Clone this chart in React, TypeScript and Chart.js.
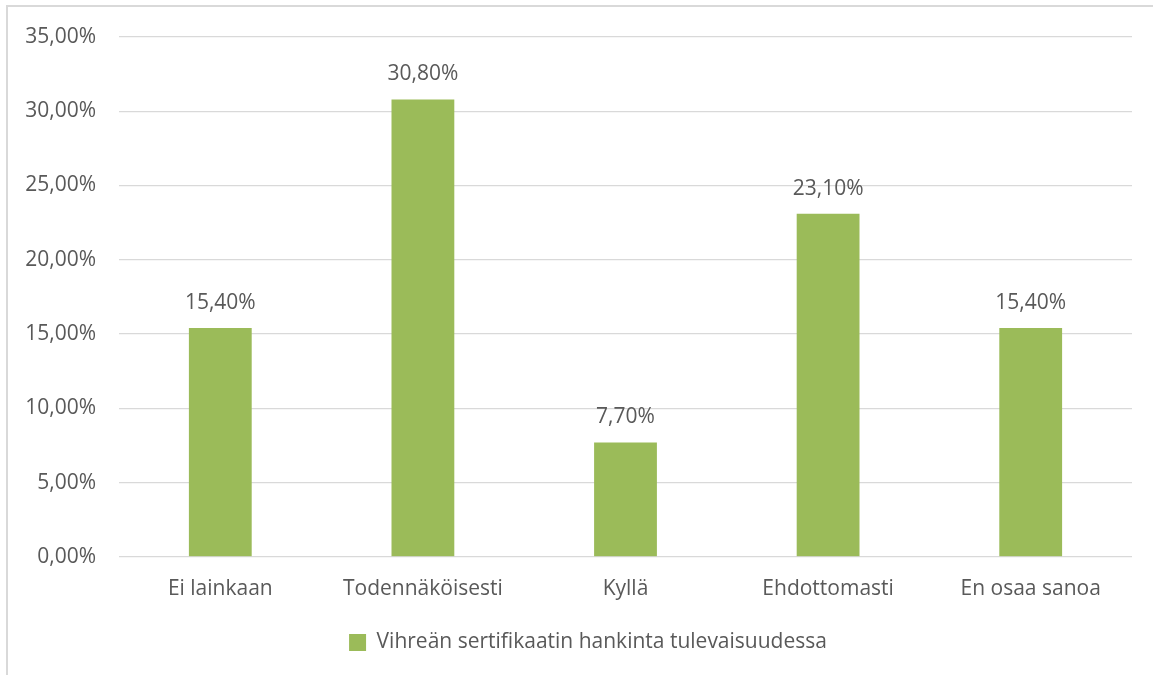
import React, { useEffect, useRef } from "react";
import { Chart, registerables } from "chart.js";

Chart.register(...registerables);

const categories = ["Ei lainkaan", "Todennäköisesti", "Kyllä", "Ehdottomasti", "En osaa sanoa"];
const values = [15.4, 30.8, 7.7, 23.1, 15.4];
const seriesName = "Vihreän sertifikaatin hankinta tulevaisuudessa";
const yMin = 0;
const yMax = 35;
const yStep = 5;

const BAR = "#9BBB59";
const TEXT = "#595959";
const GRID = "#D9D9D9";
const FONT = '"Open Sans", sans-serif';
const FS = 21;

const fmt = (v: number) => v.toFixed(2).replace(".", ",") + "%";

const labelPlugin = {
  id: "barLabels",
  afterDatasetsDraw(chart: any) {
    const ctx = chart.ctx;
    const meta = chart.getDatasetMeta(0);
    ctx.save();
    ctx.font = `${FS}px ${FONT}`;
    ctx.fillStyle = TEXT;
    ctx.textAlign = "center";
    ctx.textBaseline = "middle";
    meta.data.forEach((el: any, i: number) => {
      ctx.fillText(fmt(values[i]), el.x, el.y - 25);
    });
    ctx.restore();
  },
};

const legendShift = {
  id: "legendShift",
  beforeDraw(chart: any) {
    if (chart.legend) {
      chart.legend.left = 44;
    }
  },
};

export default function App() {
  const ref = useRef<HTMLCanvasElement>(null);
  useEffect(() => {
    document.body.style.margin = "0";
    const chart = new Chart(ref.current!, {
      type: "bar",
      data: {
        labels: categories,
        datasets: [
          {
            label: seriesName,
            data: values,
            backgroundColor: BAR,
            borderWidth: 0,
            barPercentage: 0.31,
            categoryPercentage: 1,
          },
        ],
      },
      plugins: [labelPlugin, legendShift],
      options: {
        animation: false,
        responsive: false,
        maintainAspectRatio: false,
        layout: { padding: { left: 0, right: 21, top: 37, bottom: 12 } },
        plugins: {
          tooltip: { enabled: false },
          legend: {
            position: "bottom",
            labels: {
              boxWidth: 17,
              boxHeight: 17,
              color: TEXT,
              font: { family: FONT, size: FS },
              padding: 18,
            },
          },
        },
        scales: {
          x: {
            grid: { display: false },
            border: { display: false },
            ticks: { color: TEXT, font: { family: FONT, size: FS }, padding: 12, maxRotation: 0 },
          },
          y: {
            min: yMin,
            max: yMax,
            afterFit: (s: any) => {
              s.width = 119;
            },
            grid: { color: GRID, lineWidth: 1.3, drawTicks: false },
            border: { display: false },
            ticks: {
              stepSize: yStep,
              color: TEXT,
              padding: 23,
              font: { family: FONT, size: FS },
              callback: (v: any) => fmt(Number(v)),
            },
          },
        },
      },
    });
    return () => chart.destroy();
  }, []);
  return (
    <div style={{ position: "relative", width: 1153, height: 675, overflow: "hidden", background: "#fff" }}>
      <div
        style={{
          position: "absolute",
          left: 6,
          top: 5,
          width: 1170,
          height: 700,
          border: "2px solid #D9D9D9",
        }}
      />
      <canvas ref={ref} width={1153} height={675} style={{ position: "absolute", left: 0, top: 0 }} />
    </div>
  );
}
